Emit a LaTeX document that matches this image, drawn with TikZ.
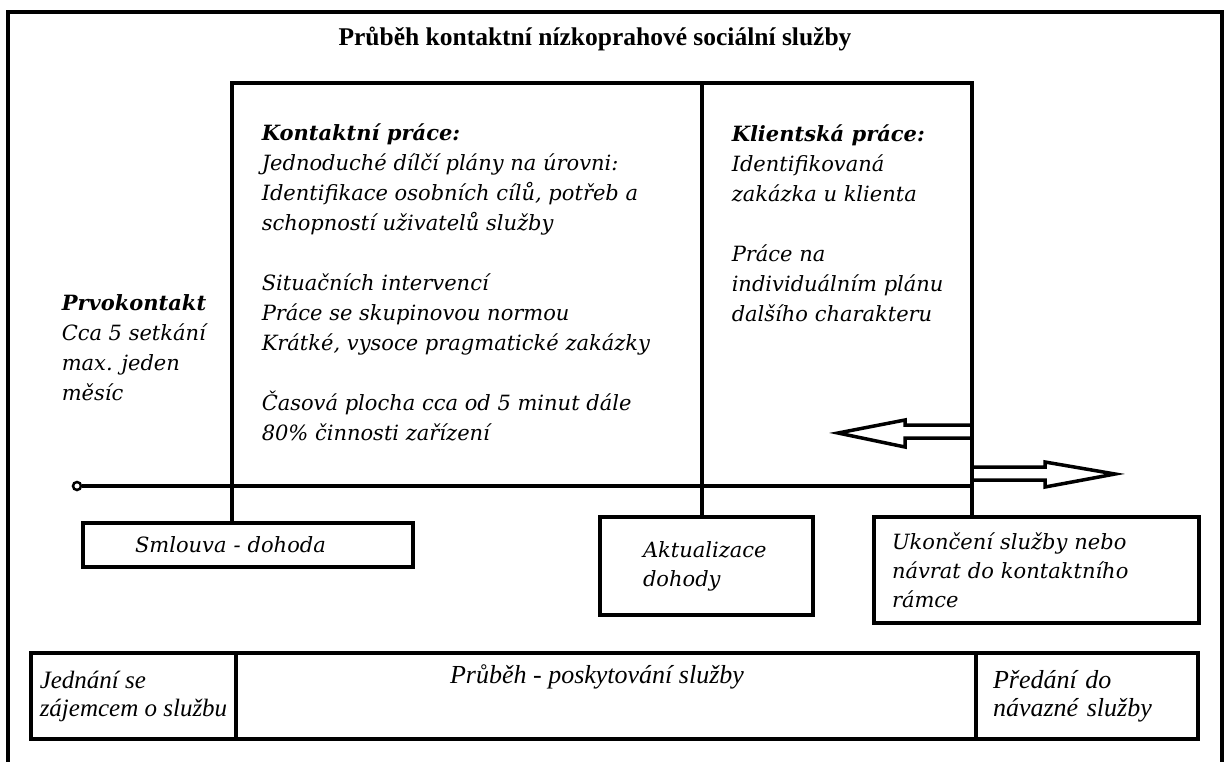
\documentclass[tikz,border=0pt]{standalone}
\usepackage{fontspec}
\setmainfont{DejaVu Serif}
\newfontfamily\titlefont{Liberation Serif}
\newfontfamily\tabfont{Liberation Serif}
\usetikzlibrary{positioning,calc}

\begin{document}
\begin{tikzpicture}[x=1pt,y=-1pt,line width=3.5pt,
  txt/.style={font=\fontsize{21}{30}\selectfont\itshape,align=left,inner sep=0pt,anchor=north west},
  boxed/.style={draw,outer sep=0pt,anchor=north west,align=left,
                font=\fontsize{21}{29}\selectfont\itshape},
  cell/.style={draw,outer sep=0pt,inner ysep=4pt,minimum height=86,align=left,
               line width=3.5pt,font=\tabfont\fontsize{26}{28}\selectfont\itshape},
  hollow/.style={line width=3.5pt,line join=miter}]
\useasboundingbox (0,0) rectangle (1228,761);

% outer frame, open at the bottom
\draw[line width=3.5pt] (8,775) -- (8,12) -- (1222,12) -- (1222,775);
\node[font=\titlefont\bfseries\fontsize{25.5}{28}\selectfont] (title) at (595,39)
  {Průběh kontaktní nízkoprahové sociální služby};

% the big open box
\coordinate (kl) at (232,83);
\coordinate (km) at (702,83);
\coordinate (kr) at (972,83);

\node[boxed,minimum width=330,minimum height=44,inner xsep=52,text width=226]
  (smlouva) at (83,523) {Smlouva - dohoda};
\node[boxed,minimum width=213,minimum height=98,inner xsep=43,text width=127]
  (aktual) at (600,517) {Aktualizace\\dohody};
\node[boxed,minimum width=325,minimum height=106,inner xsep=18,text width=289]
  (ukonc) at (874,517) {Ukončení služby nebo\\návrat do kontaktního\\rámce};

\draw (kl |- smlouva.north) -- (kl) -- (kr) -- (kr |- ukonc.north);
\draw (km) -- (km |- aktual.north);

% timeline
\node[circle,draw,line width=2.5pt,inner sep=0pt,minimum size=8] (start) at (77,486) {};
\draw (start.east) -- (kr |- start);

% back into the contact frame / out of the service
\draw[hollow] (972,425) -- (905,425) -- (905,420) -- (838,433) -- (905,447) -- (905,438) -- (972,438);
\draw[hollow] (972,467) -- (1045,467) -- (1045,462) -- (1115,474) -- (1045,487) -- (1045,480) -- (972,480);

% texts
\node[txt] (prvo) at (60,293)
  {{\bfseries Prvokontakt}\\Cca 5 setkání\\max. jeden\\měsíc};
\node[txt] (kontakt) at (260,122)
  {{\bfseries Kontaktní práce:}\\Jednoduché dílčí plány na úrovni:\\
   Identifikace osobních cílů, potřeb a\\schopností uživatelů služby\\[30pt]
   Situačních intervencí\\Práce se skupinovou normou\\
   Krátké, vysoce pragmatické zakázky\\[30pt]
   Časová plocha cca od 5 minut dále\\80\% činnosti zařízení};
\node[txt] (klient) at (730,123)
  {{\bfseries Klientská práce:}\\Identifikovaná\\zakázka u klienta\\[30pt]
   Práce na\\individuálním plánu\\dalšího charakteru};

% bottom row
\node[cell,minimum width=205,inner xsep=3pt,anchor=north west,
      font=\tabfont\fontsize{25}{28}\selectfont\itshape] (jednani) at (31,653)
  {Jednání se\\zájemcem o službu};
\node[cell,minimum width=740,right=0pt of jednani] (prubeh) {};
\node[cell,minimum width=222,inner xsep=17pt,text width=188,right=0pt of prubeh] (predani)
  {Předání do\\návazné služby};
\node[font=\tabfont\fontsize{26}{28}\selectfont\itshape,below=7pt of prubeh.north,xshift=-9pt] (prubehtxt)
  {Průběh - poskytování služby};
\end{tikzpicture}
\end{document}
